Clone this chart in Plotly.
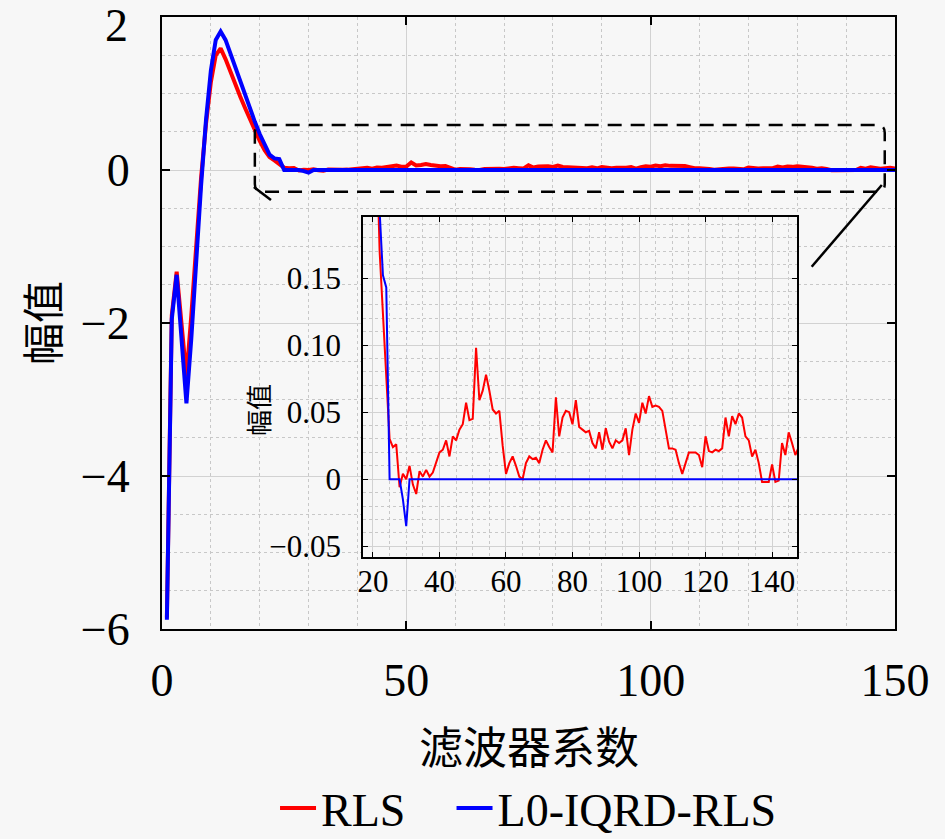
import plotly.graph_objects as go

# ---------------- data ----------------
coef_index = list(range(1, 151))

rls = [
    -5.85, -1.90, -1.33, -2.00, -2.70, -1.90, -0.95, -0.10, 0.60, 1.15,
    1.50, 1.59, 1.45, 1.28, 1.12, 0.96, 0.81, 0.66, 0.52, 0.38,
    0.26, 0.17, 0.125, 0.085, 0.030, 0.024, 0.026, -0.006, 0.004, 0.000,
    0.010, -0.004, -0.011, 0.006, 0.002, 0.007, 0.002, 0.005, 0.012, 0.020,
    0.022, 0.029, 0.017, 0.032, 0.029, 0.037, 0.041, 0.057, 0.044, 0.045,
    0.098, 0.059, 0.066, 0.078, 0.066, 0.052, 0.049, 0.051, 0.025, 0.004,
    0.012, 0.017, 0.010, 0.002, 0.000, 0.012, 0.017, 0.015, 0.016, 0.012,
    0.022, 0.029, 0.024, 0.020, 0.061, 0.032, 0.046, 0.051, 0.050, 0.041,
    0.059, 0.039, 0.037, 0.035, 0.036, 0.027, 0.023, 0.035, 0.022, 0.038,
    0.028, 0.023, 0.029, 0.027, 0.029, 0.038, 0.018, 0.037, 0.049, 0.042,
    0.057, 0.049, 0.062, 0.054, 0.055, 0.054, 0.051, 0.037, 0.023, 0.023,
    0.022, 0.012, 0.004, 0.012, 0.020, 0.020, 0.020, 0.018, 0.009, 0.032,
    0.021, 0.020, 0.022, 0.021, 0.023, 0.046, 0.032, 0.047, 0.041, 0.049,
    0.046, 0.032, 0.029, 0.017, 0.022, 0.012, -0.002, -0.002, -0.002, 0.011,
    -0.002, -0.001, 0.027, 0.018, 0.035, 0.027, 0.018, 0.024, 0.030, 0.020,
]

l0_iqrd = [
    -5.88, -1.95, -1.37, -2.20, -3.05, -2.20, -1.10, -0.20, 0.65, 1.30,
    1.70, 1.81, 1.70, 1.52, 1.33, 1.15, 0.97, 0.80, 0.63, 0.47,
    0.33, 0.20, 0.152, 0.143, 0.0, 0.0, 0.0, 0.0, -0.015, -0.035,
    0.0, 0.0, 0.0, 0.0, 0.0, 0.0, 0.0, 0.0, 0.0, 0.0,
    0.0, 0.0, 0.0, 0.0, 0.0, 0.0, 0.0, 0.0, 0.0, 0.0,
    0.0, 0.0, 0.0, 0.0, 0.0, 0.0, 0.0, 0.0, 0.0, 0.0,
    0.0, 0.0, 0.0, 0.0, 0.0, 0.0, 0.0, 0.0, 0.0, 0.0,
    0.0, 0.0, 0.0, 0.0, 0.0, 0.0, 0.0, 0.0, 0.0, 0.0,
    0.0, 0.0, 0.0, 0.0, 0.0, 0.0, 0.0, 0.0, 0.0, 0.0,
    0.0, 0.0, 0.0, 0.0, 0.0, 0.0, 0.0, 0.0, 0.0, 0.0,
    0.0, 0.0, 0.0, 0.0, 0.0, 0.0, 0.0, 0.0, 0.0, 0.0,
    0.0, 0.0, 0.0, 0.0, 0.0, 0.0, 0.0, 0.0, 0.0, 0.0,
    0.0, 0.0, 0.0, 0.0, 0.0, 0.0, 0.0, 0.0, 0.0, 0.0,
    0.0, 0.0, 0.0, 0.0, 0.0, 0.0, 0.0, 0.0, 0.0, 0.0,
    0.0, 0.0, 0.0, 0.0, 0.0, 0.0, 0.0, 0.0, 0.0, 0.0,
]

series_names = ["RLS", "L0-IQRD-RLS"]
main_xticks = [0, 50, 100, 150]
main_yticks = [-6, -4, -2, 0, 2]
main_yticklabels = ["\u22126", "\u22124", "\u22122", "0", ""]
top_ylabel = "2"
inset_xticks = [20, 40, 60, 80, 100, 120, 140]
inset_yticks = [-0.05, 0, 0.05, 0.10, 0.15]
inset_yticklabels = ["\u22120.05", "0", "0.05", "0.10", "0.15"]
x_title = "滤波器系数"
y_title = "幅值"

# ---------------- layout constants ----------------
BG = "#f7f7f7"
RED = "#ff0000"
BLUE = "#0000ff"
SERIF = "Liberation Serif, Noto Sans CJK SC"
CJK = "Noto Sans CJK SC"
MAIN_XR = [0, 150]
MAIN_YR = [-6, 2]
INSET_XR = [17.0, 147.5]
INSET_YR = [-0.058, 0.1955]
INSET_DX = [0.2742, 0.8663]
INSET_DY = [0.1176, 0.6732]
ZOOM_BOX = (19.0, 147.9, -0.284, 0.588)   # x0, x1, y0, y1
ZOOM_R = (1.6, 0.10)                      # corner radius in x / y units
CONNECT_1 = dict(x0=18.8, y0=-0.222, x1=22.3, y1=-0.392)
CONNECT_2 = dict(x0=147.3, y0=-0.196, x1=132.95, y1=-1.264)
LEGEND_X = [0.1542, 0.3950]
LEGEND_Y = -0.2925

fig = go.Figure()

fig.add_trace(go.Scatter(x=coef_index, y=rls, mode="lines", name=series_names[0],
                         legend="legend",
                         line=dict(color=RED, width=4), xaxis="x", yaxis="y"))
fig.add_trace(go.Scatter(x=coef_index, y=l0_iqrd, mode="lines", name=series_names[1],
                         legend="legend2",
                         line=dict(color=BLUE, width=4), xaxis="x", yaxis="y"))
fig.add_trace(go.Scatter(x=coef_index, y=rls, mode="lines", showlegend=False,
                         line=dict(color=RED, width=2), xaxis="x2", yaxis="y2"))
fig.add_trace(go.Scatter(x=coef_index, y=l0_iqrd, mode="lines", showlegend=False,
                         line=dict(color=BLUE, width=2), xaxis="x2", yaxis="y2"))

grid_major = "#d2d2d2"
grid_minor = "#c8c8c8"

legend_common = dict(
    orientation="h", xanchor="left", y=LEGEND_Y, yanchor="middle",
    font=dict(size=46, family=SERIF), bgcolor="rgba(0,0,0,0)",
    itemwidth=36, tracegroupgap=0,
)

fig.update_layout(
    width=945, height=839,
    margin=dict(l=162, r=50, t=17, b=210, autoexpand=False),
    paper_bgcolor=BG, plot_bgcolor=BG,
    font=dict(family=SERIF, color="black"),
    xaxis=dict(
        domain=[0, 1], range=MAIN_XR, tickvals=main_xticks, automargin=False,
        showgrid=True, gridcolor=grid_major, gridwidth=1,
        minor=dict(dtick=10, showgrid=True, gridcolor=grid_minor, griddash="dot", ticks=""),
        ticks="inside", ticklen=8, tickwidth=1.5, tickcolor="black",
        showline=True, linecolor="black", linewidth=2, mirror="ticks",
        zeroline=False, tickfont=dict(size=46, family=SERIF),
        ticklabelstandoff=10, ticklabeloverflow="allow",
    ),
    yaxis=dict(
        domain=[0, 1], range=MAIN_YR, tickvals=main_yticks, ticktext=main_yticklabels,
        automargin=False,
        showgrid=True, gridcolor=grid_major, gridwidth=1,
        minor=dict(dtick=0.5, showgrid=True, gridcolor=grid_minor, griddash="dot", ticks=""),
        ticks="inside", ticklen=8, tickwidth=1.5, tickcolor="black",
        showline=True, linecolor="black", linewidth=2, mirror="ticks",
        zeroline=False, tickfont=dict(size=46, family=SERIF),
        ticklabelstandoff=21, ticklabeloverflow="allow",
    ),
    xaxis2=dict(
        domain=INSET_DX, range=INSET_XR, tickvals=inset_xticks, anchor="y2", automargin=False,
        showgrid=True, gridcolor=grid_major, gridwidth=1,
        minor=dict(dtick=5, showgrid=True, gridcolor=grid_minor, griddash="dot", ticks=""),
        ticks="inside", ticklen=5, tickwidth=1, tickcolor="black",
        showline=True, linecolor="black", linewidth=1.5, mirror="ticks",
        zeroline=False, tickfont=dict(size=31, family=SERIF),
        ticklabelstandoff=-4,
    ),
    yaxis2=dict(
        domain=INSET_DY, range=INSET_YR, tickvals=inset_yticks, ticktext=inset_yticklabels,
        anchor="x2", automargin=False,
        showgrid=True, gridcolor=grid_major, gridwidth=1,
        minor=dict(dtick=0.01, showgrid=True, gridcolor=grid_minor, griddash="dot", ticks=""),
        ticks="inside", ticklen=5, tickwidth=1, tickcolor="black",
        showline=True, linecolor="black", linewidth=1.5, mirror="ticks",
        zeroline=False, tickfont=dict(size=31, family=SERIF),
        ticklabelstandoff=14,
    ),
    legend=dict(x=LEGEND_X[0], **legend_common),
    legend2=dict(x=LEGEND_X[1], **legend_common),
)

# cover main grid behind the inset (between main grid and traces)
fig.add_shape(type="rect", xref="x", yref="y", layer="between",
              x0=MAIN_XR[0] + (MAIN_XR[1] - MAIN_XR[0]) * INSET_DX[0],
              x1=MAIN_XR[0] + (MAIN_XR[1] - MAIN_XR[0]) * INSET_DX[1],
              y0=MAIN_YR[0] + (MAIN_YR[1] - MAIN_YR[0]) * INSET_DY[0],
              y1=MAIN_YR[0] + (MAIN_YR[1] - MAIN_YR[0]) * INSET_DY[1],
              fillcolor=BG, line=dict(width=0))

# rounded dashed zoom box
bx0, bx1, by0, by1 = ZOOM_BOX
rx, ry = ZOOM_R
box_path = (
    f"M {bx0 + rx},{by1} L {bx1 - rx},{by1} Q {bx1},{by1} {bx1},{by1 - ry} "
    f"L {bx1},{by0 + ry} Q {bx1},{by0} {bx1 - rx},{by0} "
    f"L {bx0 + rx},{by0} Q {bx0},{by0} {bx0},{by0 + ry} "
    f"L {bx0},{by1 - ry} Q {bx0},{by1} {bx0 + rx},{by1} Z"
)
fig.add_shape(type="path", xref="x", yref="y", layer="above", path=box_path,
              line=dict(color="black", width=2.5, dash="14px,9px"))
fig.add_shape(type="line", xref="x", yref="y", layer="above", **CONNECT_1,
              line=dict(color="black", width=2.5))
fig.add_shape(type="line", xref="x", yref="y", layer="above", **CONNECT_2,
              line=dict(color="black", width=2.5))

# top y tick label kept inside the page, like the reference
fig.add_annotation(text=top_ylabel, xref="paper", yref="paper", x=-0.0437, y=0.9861,
                   xanchor="right", yanchor="middle", showarrow=False,
                   font=dict(size=46, family=SERIF, color="black"))

fig.add_annotation(text=x_title, xref="paper", yref="paper", x=0.5, y=-0.1895,
                   xanchor="center", yanchor="middle", showarrow=False,
                   font=dict(size=44, family=CJK, color="black"))
fig.add_annotation(text=y_title, xref="paper", yref="paper", x=-0.1664, y=0.5,
                   xanchor="center", yanchor="middle", showarrow=False, textangle=-90,
                   font=dict(size=42, family=CJK, color="black"))
fig.add_annotation(text=y_title, xref="paper", yref="paper", x=0.131, y=0.358,
                   xanchor="center", yanchor="middle", showarrow=False, textangle=-90,
                   font=dict(size=26, family=CJK, color="black"))

fig.write_html(
    "out.html",
    config={"displayModeBar": False},
    post_script="document.body.style.margin='0';document.body.style.background='#f7f7f7';",
)
